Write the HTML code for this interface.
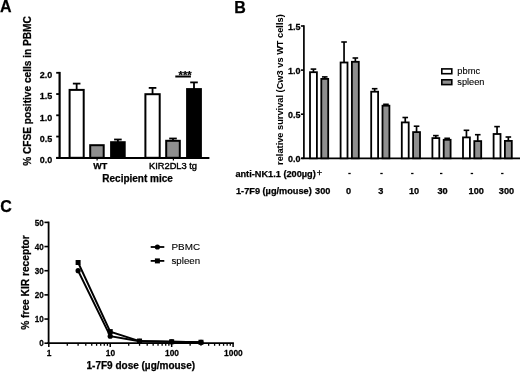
<!DOCTYPE html>
<html><head><meta charset="utf-8"><style>
html,body{margin:0;padding:0;background:#fff;}
body{width:520px;height:372px;overflow:hidden;font-family:"Liberation Sans",sans-serif;}
svg{display:block;will-change:transform;filter:blur(0.3px);}
text{stroke:#000;stroke-width:0.25px;paint-order:stroke;}
text.r{stroke-width:0.12px;}
</style></head><body>
<svg width="520" height="372" viewBox="0 0 520 372">
<rect width="520" height="372" fill="#fff"/>
<text x="0.00" y="11.70" font-family="Liberation Sans, sans-serif" font-size="16" font-weight="bold" text-anchor="start" >A</text>
<text transform="translate(30.6,165.8) rotate(-90)" font-family="Liberation Sans, sans-serif" font-size="10.15" font-weight="bold">% CFSE positive cells in PBMC</text>
<line x1="59.60" y1="71.90" x2="59.60" y2="158.80" stroke="#000" stroke-width="2.2"/>
<line x1="56.20" y1="157.80" x2="59.60" y2="157.80" stroke="#000" stroke-width="1.8"/>
<text transform="translate(52.30,163.20) scale(1.0,1.1)" font-family="Liberation Sans, sans-serif" font-size="9" font-weight="bold" text-anchor="end" >0.0</text>
<line x1="56.20" y1="136.55" x2="59.60" y2="136.55" stroke="#000" stroke-width="1.8"/>
<text transform="translate(52.30,141.95) scale(1.0,1.1)" font-family="Liberation Sans, sans-serif" font-size="9" font-weight="bold" text-anchor="end" >0.5</text>
<line x1="56.20" y1="115.30" x2="59.60" y2="115.30" stroke="#000" stroke-width="1.8"/>
<text transform="translate(52.30,120.70) scale(1.0,1.1)" font-family="Liberation Sans, sans-serif" font-size="9" font-weight="bold" text-anchor="end" >1.0</text>
<line x1="56.20" y1="94.05" x2="59.60" y2="94.05" stroke="#000" stroke-width="1.8"/>
<text transform="translate(52.30,99.45) scale(1.0,1.1)" font-family="Liberation Sans, sans-serif" font-size="9" font-weight="bold" text-anchor="end" >1.5</text>
<line x1="56.20" y1="72.80" x2="59.60" y2="72.80" stroke="#000" stroke-width="1.8"/>
<text transform="translate(52.30,78.20) scale(1.0,1.1)" font-family="Liberation Sans, sans-serif" font-size="9" font-weight="bold" text-anchor="end" >2.0</text>
<line x1="56.20" y1="158.00" x2="209.40" y2="158.00" stroke="#000" stroke-width="2"/>
<line x1="76.65" y1="83.60" x2="76.65" y2="89.90" stroke="#000" stroke-width="1.8"/>
<line x1="72.85" y1="83.60" x2="80.45" y2="83.60" stroke="#000" stroke-width="1.8"/>
<rect x="69.60" y="89.90" width="14.10" height="67.90" fill="#fff" stroke="#000" stroke-width="2"/>
<rect x="90.20" y="145.20" width="13.50" height="12.60" fill="#8f8f8f" stroke="#000" stroke-width="2"/>
<line x1="117.90" y1="139.50" x2="117.90" y2="142.20" stroke="#000" stroke-width="1.8"/>
<line x1="114.10" y1="139.50" x2="121.70" y2="139.50" stroke="#000" stroke-width="1.8"/>
<rect x="111.10" y="142.20" width="13.60" height="15.60" fill="#000" stroke="#000" stroke-width="2"/>
<line x1="152.55" y1="87.90" x2="152.55" y2="94.20" stroke="#000" stroke-width="1.8"/>
<line x1="148.75" y1="87.90" x2="156.35" y2="87.90" stroke="#000" stroke-width="1.8"/>
<rect x="145.40" y="94.20" width="14.30" height="63.60" fill="#fff" stroke="#000" stroke-width="2"/>
<line x1="173.00" y1="138.50" x2="173.00" y2="140.80" stroke="#000" stroke-width="1.8"/>
<line x1="169.20" y1="138.50" x2="176.80" y2="138.50" stroke="#000" stroke-width="1.8"/>
<rect x="166.20" y="140.80" width="13.60" height="17.00" fill="#8f8f8f" stroke="#000" stroke-width="2"/>
<line x1="194.00" y1="82.40" x2="194.00" y2="89.10" stroke="#000" stroke-width="1.8"/>
<line x1="190.20" y1="82.40" x2="197.80" y2="82.40" stroke="#000" stroke-width="1.8"/>
<rect x="187.10" y="89.10" width="13.80" height="68.70" fill="#000" stroke="#000" stroke-width="2"/>
<line x1="97.10" y1="157.80" x2="97.10" y2="160.50" stroke="#000" stroke-width="1.2"/>
<line x1="173.40" y1="157.80" x2="173.40" y2="160.50" stroke="#000" stroke-width="1.2"/>
<text x="100.30" y="169.20" font-family="Liberation Sans, sans-serif" font-size="9" font-weight="bold" text-anchor="middle" >WT</text>
<text class="r" x="173.00" y="169.10" font-family="Liberation Sans, sans-serif" font-size="9.3" font-weight="normal" text-anchor="middle" style="stroke-width:0.4px">KIR2DL3 tg</text>
<text x="137.60" y="182.40" font-family="Liberation Sans, sans-serif" font-size="10" font-weight="bold" text-anchor="middle" >Recipient mice</text>
<line x1="175.30" y1="76.50" x2="190.90" y2="76.50" stroke="#000" stroke-width="2"/>
<text x="185.10" y="78.70" font-family="Liberation Sans, sans-serif" font-size="11.2" font-weight="bold" text-anchor="middle" >***</text>
<text x="234.30" y="12.70" font-family="Liberation Sans, sans-serif" font-size="16" font-weight="bold" text-anchor="start" >B</text>
<text style="stroke-width:0.05px" transform="translate(283.4,164.9) rotate(-90)" font-family="Liberation Sans, sans-serif" font-size="9.25" font-weight="bold">relative survival (Cw3 vs WT cells)</text>
<line x1="303.90" y1="25.20" x2="303.90" y2="158.30" stroke="#000" stroke-width="1.7"/>
<line x1="300.90" y1="158.30" x2="303.90" y2="158.30" stroke="#000" stroke-width="1.6"/>
<text transform="translate(300.50,162.10) scale(1.0,1.1)" font-family="Liberation Sans, sans-serif" font-size="9" font-weight="bold" text-anchor="end" >0.0</text>
<line x1="300.90" y1="114.20" x2="303.90" y2="114.20" stroke="#000" stroke-width="1.6"/>
<text transform="translate(300.50,118.00) scale(1.0,1.1)" font-family="Liberation Sans, sans-serif" font-size="9" font-weight="bold" text-anchor="end" >0.5</text>
<line x1="300.90" y1="70.10" x2="303.90" y2="70.10" stroke="#000" stroke-width="1.6"/>
<text transform="translate(300.50,73.90) scale(1.0,1.1)" font-family="Liberation Sans, sans-serif" font-size="9" font-weight="bold" text-anchor="end" >1.0</text>
<line x1="300.90" y1="26.00" x2="303.90" y2="26.00" stroke="#000" stroke-width="1.6"/>
<text transform="translate(300.50,29.80) scale(1.0,1.1)" font-family="Liberation Sans, sans-serif" font-size="9" font-weight="bold" text-anchor="end" >1.5</text>
<line x1="301.50" y1="158.30" x2="520.00" y2="158.30" stroke="#000" stroke-width="1.7"/>
<line x1="313.45" y1="69.10" x2="313.45" y2="72.30" stroke="#000" stroke-width="1.7"/>
<line x1="310.65" y1="69.10" x2="316.25" y2="69.10" stroke="#000" stroke-width="1.6"/>
<rect x="310.00" y="72.20" width="6.90" height="86.10" fill="#fff" stroke="#000" stroke-width="1.8"/>
<line x1="324.75" y1="76.90" x2="324.75" y2="79.00" stroke="#000" stroke-width="1.7"/>
<line x1="321.95" y1="76.90" x2="327.55" y2="76.90" stroke="#000" stroke-width="1.6"/>
<rect x="321.30" y="78.90" width="6.90" height="79.40" fill="#8f8f8f" stroke="#000" stroke-width="1.8"/>
<line x1="344.05" y1="42.00" x2="344.05" y2="62.60" stroke="#000" stroke-width="1.7"/>
<line x1="341.25" y1="42.00" x2="346.85" y2="42.00" stroke="#000" stroke-width="1.6"/>
<rect x="340.60" y="62.50" width="6.90" height="95.80" fill="#fff" stroke="#000" stroke-width="1.8"/>
<line x1="355.35" y1="58.00" x2="355.35" y2="61.90" stroke="#000" stroke-width="1.7"/>
<line x1="352.55" y1="58.00" x2="358.15" y2="58.00" stroke="#000" stroke-width="1.6"/>
<rect x="351.90" y="61.80" width="6.90" height="96.50" fill="#8f8f8f" stroke="#000" stroke-width="1.8"/>
<line x1="374.65" y1="88.70" x2="374.65" y2="91.80" stroke="#000" stroke-width="1.7"/>
<line x1="371.85" y1="88.70" x2="377.45" y2="88.70" stroke="#000" stroke-width="1.6"/>
<rect x="371.20" y="91.70" width="6.90" height="66.60" fill="#fff" stroke="#000" stroke-width="1.8"/>
<line x1="383.15" y1="104.30" x2="388.75" y2="104.30" stroke="#000" stroke-width="1.6"/>
<rect x="382.50" y="105.70" width="6.90" height="52.60" fill="#8f8f8f" stroke="#000" stroke-width="1.8"/>
<line x1="405.25" y1="117.50" x2="405.25" y2="122.50" stroke="#000" stroke-width="1.7"/>
<line x1="402.45" y1="117.50" x2="408.05" y2="117.50" stroke="#000" stroke-width="1.6"/>
<rect x="401.80" y="122.40" width="6.90" height="35.90" fill="#fff" stroke="#000" stroke-width="1.8"/>
<line x1="416.55" y1="126.20" x2="416.55" y2="132.20" stroke="#000" stroke-width="1.7"/>
<line x1="413.75" y1="126.20" x2="419.35" y2="126.20" stroke="#000" stroke-width="1.6"/>
<rect x="413.10" y="132.10" width="6.90" height="26.20" fill="#8f8f8f" stroke="#000" stroke-width="1.8"/>
<line x1="435.85" y1="135.60" x2="435.85" y2="138.20" stroke="#000" stroke-width="1.7"/>
<line x1="433.05" y1="135.60" x2="438.65" y2="135.60" stroke="#000" stroke-width="1.6"/>
<rect x="432.40" y="138.10" width="6.90" height="20.20" fill="#fff" stroke="#000" stroke-width="1.8"/>
<line x1="444.35" y1="138.30" x2="449.95" y2="138.30" stroke="#000" stroke-width="1.6"/>
<rect x="443.70" y="139.80" width="6.90" height="18.50" fill="#8f8f8f" stroke="#000" stroke-width="1.8"/>
<line x1="466.45" y1="130.30" x2="466.45" y2="137.50" stroke="#000" stroke-width="1.7"/>
<line x1="463.65" y1="130.30" x2="469.25" y2="130.30" stroke="#000" stroke-width="1.6"/>
<rect x="463.00" y="137.40" width="6.90" height="20.90" fill="#fff" stroke="#000" stroke-width="1.8"/>
<line x1="477.75" y1="134.70" x2="477.75" y2="141.20" stroke="#000" stroke-width="1.7"/>
<line x1="474.95" y1="134.70" x2="480.55" y2="134.70" stroke="#000" stroke-width="1.6"/>
<rect x="474.30" y="141.10" width="6.90" height="17.20" fill="#8f8f8f" stroke="#000" stroke-width="1.8"/>
<line x1="497.05" y1="126.60" x2="497.05" y2="134.10" stroke="#000" stroke-width="1.7"/>
<line x1="494.25" y1="126.60" x2="499.85" y2="126.60" stroke="#000" stroke-width="1.6"/>
<rect x="493.60" y="134.00" width="6.90" height="24.30" fill="#fff" stroke="#000" stroke-width="1.8"/>
<line x1="508.35" y1="137.00" x2="508.35" y2="141.00" stroke="#000" stroke-width="1.7"/>
<line x1="505.55" y1="137.00" x2="511.15" y2="137.00" stroke="#000" stroke-width="1.6"/>
<rect x="504.90" y="140.90" width="6.90" height="17.40" fill="#8f8f8f" stroke="#000" stroke-width="1.8"/>
<rect x="441.80" y="68.90" width="10.00" height="4.80" fill="#fff" stroke="#000" stroke-width="1.6"/>
<rect x="441.80" y="79.80" width="10.00" height="4.80" fill="#8f8f8f" stroke="#000" stroke-width="1.6"/>
<text class="r" x="457.30" y="73.60" font-family="Liberation Sans, sans-serif" font-size="9.3" font-weight="normal" text-anchor="start" >pbmc</text>
<text class="r" x="457.30" y="84.50" font-family="Liberation Sans, sans-serif" font-size="9.2" font-weight="normal" text-anchor="start" >spleen</text>
<text x="235.40" y="176.60" font-family="Liberation Sans, sans-serif" font-size="9.2" font-weight="bold" text-anchor="start" >anti-NK1.1 (200µg)</text>
<text class="r" x="316.70" y="176.30" font-family="Liberation Sans, sans-serif" font-size="9.3" font-weight="normal" text-anchor="start" style="stroke-width:0.35px">+</text>
<line x1="348.30" y1="173.50" x2="350.70" y2="173.50" stroke="#000" stroke-width="1.3"/>
<line x1="380.30" y1="173.50" x2="382.70" y2="173.50" stroke="#000" stroke-width="1.3"/>
<line x1="411.10" y1="173.50" x2="413.50" y2="173.50" stroke="#000" stroke-width="1.3"/>
<line x1="440.00" y1="173.50" x2="442.40" y2="173.50" stroke="#000" stroke-width="1.3"/>
<line x1="470.70" y1="173.50" x2="473.10" y2="173.50" stroke="#000" stroke-width="1.3"/>
<line x1="501.10" y1="173.50" x2="503.50" y2="173.50" stroke="#000" stroke-width="1.3"/>
<text x="236.00" y="194.20" font-family="Liberation Sans, sans-serif" font-size="9.2" font-weight="bold" text-anchor="start" >1-7F9 (µg/mouse)</text>
<text x="315.10" y="194.20" font-family="Liberation Sans, sans-serif" font-size="9.2" font-weight="bold" text-anchor="start" >300</text>
<text x="345.90" y="194.20" font-family="Liberation Sans, sans-serif" font-size="9.2" font-weight="bold" text-anchor="start" >0</text>
<text x="378.30" y="194.20" font-family="Liberation Sans, sans-serif" font-size="9.2" font-weight="bold" text-anchor="start" >3</text>
<text x="409.00" y="194.20" font-family="Liberation Sans, sans-serif" font-size="9.2" font-weight="bold" text-anchor="start" >10</text>
<text x="437.50" y="194.20" font-family="Liberation Sans, sans-serif" font-size="9.2" font-weight="bold" text-anchor="start" >30</text>
<text x="468.60" y="194.20" font-family="Liberation Sans, sans-serif" font-size="9.2" font-weight="bold" text-anchor="start" >100</text>
<text x="498.80" y="194.20" font-family="Liberation Sans, sans-serif" font-size="9.2" font-weight="bold" text-anchor="start" >300</text>
<text x="0.20" y="212.30" font-family="Liberation Sans, sans-serif" font-size="16" font-weight="bold" text-anchor="start" >C</text>
<text transform="translate(29.2,329.8) rotate(-90)" font-family="Liberation Sans, sans-serif" font-size="10.2" font-weight="bold">% free KIR receptor</text>
<line x1="48.60" y1="221.60" x2="48.60" y2="343.20" stroke="#000" stroke-width="1.8"/>
<line x1="44.40" y1="343.20" x2="48.60" y2="343.20" stroke="#000" stroke-width="1.6"/>
<text transform="translate(43.70,346.40) scale(0.9,1.1)" font-family="Liberation Sans, sans-serif" font-size="9" font-weight="bold" text-anchor="end" >0</text>
<line x1="44.40" y1="319.04" x2="48.60" y2="319.04" stroke="#000" stroke-width="1.6"/>
<text transform="translate(43.70,322.24) scale(0.9,1.1)" font-family="Liberation Sans, sans-serif" font-size="9" font-weight="bold" text-anchor="end" >10</text>
<line x1="44.40" y1="294.88" x2="48.60" y2="294.88" stroke="#000" stroke-width="1.6"/>
<text transform="translate(43.70,298.08) scale(0.9,1.1)" font-family="Liberation Sans, sans-serif" font-size="9" font-weight="bold" text-anchor="end" >20</text>
<line x1="44.40" y1="270.72" x2="48.60" y2="270.72" stroke="#000" stroke-width="1.6"/>
<text transform="translate(43.70,273.92) scale(0.9,1.1)" font-family="Liberation Sans, sans-serif" font-size="9" font-weight="bold" text-anchor="end" >30</text>
<line x1="44.40" y1="246.56" x2="48.60" y2="246.56" stroke="#000" stroke-width="1.6"/>
<text transform="translate(43.70,249.76) scale(0.9,1.1)" font-family="Liberation Sans, sans-serif" font-size="9" font-weight="bold" text-anchor="end" >40</text>
<line x1="44.40" y1="222.40" x2="48.60" y2="222.40" stroke="#000" stroke-width="1.6"/>
<text transform="translate(43.70,225.60) scale(0.9,1.1)" font-family="Liberation Sans, sans-serif" font-size="9" font-weight="bold" text-anchor="end" >50</text>
<line x1="47.30" y1="343.20" x2="233.90" y2="343.20" stroke="#000" stroke-width="1.8"/>
<line x1="48.80" y1="343.20" x2="48.80" y2="347.00" stroke="#000" stroke-width="1.5"/>
<line x1="110.23" y1="343.20" x2="110.23" y2="347.00" stroke="#000" stroke-width="1.5"/>
<line x1="171.66" y1="343.20" x2="171.66" y2="347.00" stroke="#000" stroke-width="1.5"/>
<line x1="233.09" y1="343.20" x2="233.09" y2="347.00" stroke="#000" stroke-width="1.5"/>
<line x1="67.29" y1="343.20" x2="67.29" y2="345.80" stroke="#000" stroke-width="1.3"/>
<line x1="78.11" y1="343.20" x2="78.11" y2="345.80" stroke="#000" stroke-width="1.3"/>
<line x1="85.78" y1="343.20" x2="85.78" y2="345.80" stroke="#000" stroke-width="1.3"/>
<line x1="91.74" y1="343.20" x2="91.74" y2="345.80" stroke="#000" stroke-width="1.3"/>
<line x1="96.60" y1="343.20" x2="96.60" y2="345.80" stroke="#000" stroke-width="1.3"/>
<line x1="100.71" y1="343.20" x2="100.71" y2="345.80" stroke="#000" stroke-width="1.3"/>
<line x1="104.28" y1="343.20" x2="104.28" y2="345.80" stroke="#000" stroke-width="1.3"/>
<line x1="107.42" y1="343.20" x2="107.42" y2="345.80" stroke="#000" stroke-width="1.3"/>
<line x1="128.72" y1="343.20" x2="128.72" y2="345.80" stroke="#000" stroke-width="1.3"/>
<line x1="139.54" y1="343.20" x2="139.54" y2="345.80" stroke="#000" stroke-width="1.3"/>
<line x1="147.21" y1="343.20" x2="147.21" y2="345.80" stroke="#000" stroke-width="1.3"/>
<line x1="153.17" y1="343.20" x2="153.17" y2="345.80" stroke="#000" stroke-width="1.3"/>
<line x1="158.03" y1="343.20" x2="158.03" y2="345.80" stroke="#000" stroke-width="1.3"/>
<line x1="162.14" y1="343.20" x2="162.14" y2="345.80" stroke="#000" stroke-width="1.3"/>
<line x1="165.71" y1="343.20" x2="165.71" y2="345.80" stroke="#000" stroke-width="1.3"/>
<line x1="168.85" y1="343.20" x2="168.85" y2="345.80" stroke="#000" stroke-width="1.3"/>
<line x1="190.15" y1="343.20" x2="190.15" y2="345.80" stroke="#000" stroke-width="1.3"/>
<line x1="200.97" y1="343.20" x2="200.97" y2="345.80" stroke="#000" stroke-width="1.3"/>
<line x1="208.64" y1="343.20" x2="208.64" y2="345.80" stroke="#000" stroke-width="1.3"/>
<line x1="214.60" y1="343.20" x2="214.60" y2="345.80" stroke="#000" stroke-width="1.3"/>
<line x1="219.46" y1="343.20" x2="219.46" y2="345.80" stroke="#000" stroke-width="1.3"/>
<line x1="223.57" y1="343.20" x2="223.57" y2="345.80" stroke="#000" stroke-width="1.3"/>
<line x1="227.14" y1="343.20" x2="227.14" y2="345.80" stroke="#000" stroke-width="1.3"/>
<line x1="230.28" y1="343.20" x2="230.28" y2="345.80" stroke="#000" stroke-width="1.3"/>
<text transform="translate(49.10,356.10) scale(0.93,1.08)" font-family="Liberation Sans, sans-serif" font-size="9" font-weight="bold" text-anchor="middle" >1</text>
<text transform="translate(110.53,356.10) scale(0.93,1.08)" font-family="Liberation Sans, sans-serif" font-size="9" font-weight="bold" text-anchor="middle" >10</text>
<text transform="translate(171.96,356.10) scale(0.93,1.08)" font-family="Liberation Sans, sans-serif" font-size="9" font-weight="bold" text-anchor="middle" >100</text>
<text transform="translate(233.39,356.10) scale(0.93,1.08)" font-family="Liberation Sans, sans-serif" font-size="9" font-weight="bold" text-anchor="middle" >1000</text>
<text x="140.80" y="369.00" font-family="Liberation Sans, sans-serif" font-size="10" font-weight="bold" text-anchor="middle" >1-7F9 dose (µg/mouse)</text>
<polyline points="78.11,270.72 110.23,336.19 139.54,341.27 171.66,341.75 200.97,342.23" fill="none" stroke="#000" stroke-width="1.9"/>
<polyline points="78.11,262.51 110.23,331.60 139.54,341.03 171.66,341.75 200.97,342.23" fill="none" stroke="#000" stroke-width="1.9"/>
<circle cx="78.11" cy="270.72" r="2.6" fill="#000"/>
<circle cx="110.23" cy="336.19" r="2.6" fill="#000"/>
<circle cx="139.54" cy="341.27" r="2.6" fill="#000"/>
<circle cx="171.66" cy="341.75" r="2.6" fill="#000"/>
<circle cx="200.97" cy="342.23" r="2.6" fill="#000"/>
<rect x="75.61" y="260.01" width="5" height="5" fill="#000"/>
<rect x="107.73" y="329.10" width="5" height="5" fill="#000"/>
<rect x="137.04" y="338.53" width="5" height="5" fill="#000"/>
<rect x="169.16" y="339.25" width="5" height="5" fill="#000"/>
<rect x="198.47" y="339.73" width="5" height="5" fill="#000"/>
<line x1="150.70" y1="247.00" x2="164.30" y2="247.00" stroke="#000" stroke-width="1.8"/>
<circle cx="157.4" cy="247" r="2.6" fill="#000"/>
<line x1="150.70" y1="260.90" x2="164.30" y2="260.90" stroke="#000" stroke-width="1.8"/>
<rect x="154.9" y="258.4" width="5" height="5" fill="#000"/>
<text class="r" x="171.50" y="250.40" font-family="Liberation Sans, sans-serif" font-size="9.9" font-weight="normal" text-anchor="start" >PBMC</text>
<text class="r" x="171.50" y="264.00" font-family="Liberation Sans, sans-serif" font-size="9.7" font-weight="normal" text-anchor="start" >spleen</text>
</svg>
</body></html>
